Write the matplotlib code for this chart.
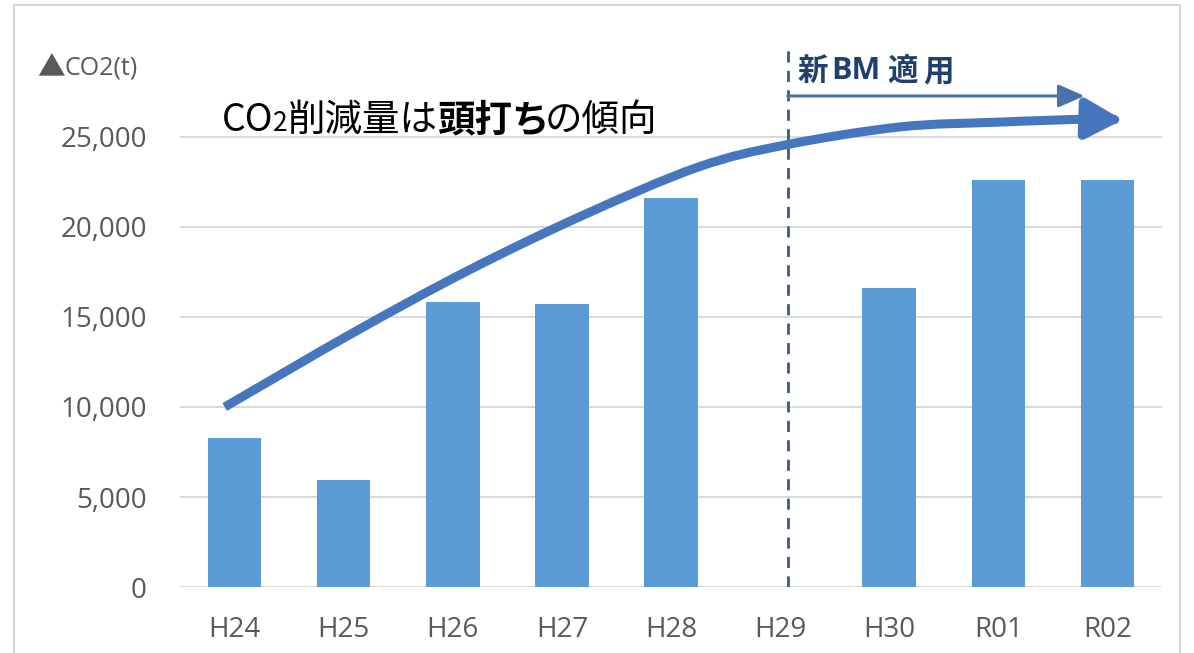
import numpy as np
import matplotlib
matplotlib.use("Agg")
import matplotlib.pyplot as plt
from matplotlib.path import Path
from matplotlib.patches import FancyArrowPatch, Rectangle
from matplotlib.ticker import FuncFormatter

plt.rcParams['font.family'] = ['Noto Sans CJK JP', 'DejaVu Sans']
latin = ['Open Sans', 'Noto Sans CJK JP']

# 年度ごとのCO2削減量 (t)
years = ["H24", "H25", "H26", "H27", "H28", "H29", "H30", "R01", "R02"]
co2 = [8300, 5950, 15850, 15700, 21600, 0, 16600, 22600, 22600]

# 新BM適用の開始位置と傾向線の通過点 (カテゴリ位置, t)
bm_start = 5.07
bm_arrow_end = 7.79
trend_x = [-0.09, 1.10, 2.15, 3.20, 4.25, 5.05, 6.10, 7.02, 7.87, 8.14]
trend_y = [10000, 14170, 17610, 20670, 23330, 24560, 25560, 25830, 26000, 25950]

bar_color = "#5B9BD5"
trend_color = "#4676BE"
grid_color = "#D9D9D9"
label_color = "#595959"

fig = plt.figure(figsize=(11.94, 6.53), dpi=100)
ax = fig.add_axes([180 / 1194, 66 / 653, 982 / 1194, 558 / 653])

x = np.arange(len(years))
ax.bar(x, co2, width=0.49, color=bar_color, zorder=2)

ax.set_xlim(-0.5, len(years) - 0.5)
ax.set_ylim(0, 31000)
ax.set_yticks(np.arange(0, 25001, 5000))
ax.yaxis.set_major_formatter(FuncFormatter(lambda v, p: f"{int(v):,}"))
ax.set_xticks(x)
ax.set_xticklabels(years)
ax.tick_params(axis="both", length=0, labelsize=20, labelcolor=label_color)
ax.tick_params(axis="y", pad=24)
ax.tick_params(axis="x", pad=21)
for lab in ax.get_xticklabels() + ax.get_yticklabels():
    lab.set_family(latin)
for s in ax.spines.values():
    s.set_visible(False)
ax.yaxis.grid(True, color=grid_color, lw=1.4, zorder=0)

# 新BM適用の区切り線と矢印
ax.plot([bm_start, bm_start], [0, 30200], color="#3B5A85", lw=2.0,
        dashes=(4, 3), zorder=3)
ax.annotate("", xy=(bm_arrow_end, 27280), xytext=(bm_start, 27280),
            arrowprops=dict(arrowstyle="-|>,head_length=0.8,head_width=0.35",
                            color="#4A72AA", lw=2.2, mutation_scale=20,
                            shrinkA=0, shrinkB=0))
b1 = ax.text(bm_start + 0.09, 28650, "新", color="#22406E", fontsize=22,
             fontweight="bold", va="center", ha="left")
b2 = ax.annotate("BM", xy=(1, 0.5), xycoords=b1, xytext=(2, 0),
                 textcoords="offset points", color="#22406E", fontsize=22,
                 fontweight="bold", family=latin, va="center")
b3 = ax.annotate("適", xy=(1, 0.5), xycoords=b2, xytext=(5, 0),
                 textcoords="offset points", color="#22406E", fontsize=22,
                 fontweight="bold", va="center")
ax.annotate("用", xy=(1, 0.5), xycoords=b3, xytext=(4, 0),
            textcoords="offset points", color="#22406E", fontsize=22,
            fontweight="bold", va="center")

# 傾向線 (Catmull-Rom をベジェ曲線に変換)
pts = np.column_stack([trend_x, trend_y])
ext = np.vstack([pts[0], pts, pts[-1]])
verts = [pts[0]]
codes = [Path.MOVETO]
for i in range(1, len(ext) - 2):
    p0, p1, p2, p3 = ext[i - 1], ext[i], ext[i + 1], ext[i + 2]
    verts += [p1 + (p2 - p0) / 6, p2 - (p3 - p1) / 6, p2]
    codes += [Path.CURVE4] * 3
trend = FancyArrowPatch(path=Path(verts, codes),
                        arrowstyle="-|>,head_length=0.55,head_width=0.3",
                        mutation_scale=40, color=trend_color, lw=6.5,
                        shrinkA=0, shrinkB=0, zorder=4, capstyle="butt")
ax.add_patch(trend)

# 見出し
t1 = ax.text(-0.12, 24850, "CO", fontsize=27, color="black", va="bottom")
t2 = ax.annotate("2", xy=(1, 0.06), xycoords=t1, fontsize=19, color="black",
                 va="bottom")
t3 = ax.annotate("削減量は", xy=(1, -0.08), xycoords=t2, fontsize=27,
                 color="black", va="bottom")
t4 = ax.annotate("頭打ち", xy=(1, 0), xycoords=t3, fontsize=27, color="black",
                 fontweight="bold", va="bottom")
ax.annotate("の傾向", xy=(1, 0), xycoords=t4, xytext=(-4, 0),
            textcoords="offset points", fontsize=27, color="black",
            va="bottom")

fig.text(37 / 1194, 1 - 68 / 653, "▲", fontsize=20, color=label_color,
         va="center", ha="left")
fig.text(65 / 1194, 1 - 68 / 653, "CO2(t)", fontsize=18, color=label_color,
         va="center", ha="left", family=latin)

# 外枠
fig.patches.append(Rectangle((14 / 1194, -0.02), 1166 / 1194, 1.02 - 5 / 653,
                             transform=fig.transFigure, fill=False,
                             edgecolor="#D6D6D6", lw=1.5))

fig.savefig("out.png", dpi=100)
